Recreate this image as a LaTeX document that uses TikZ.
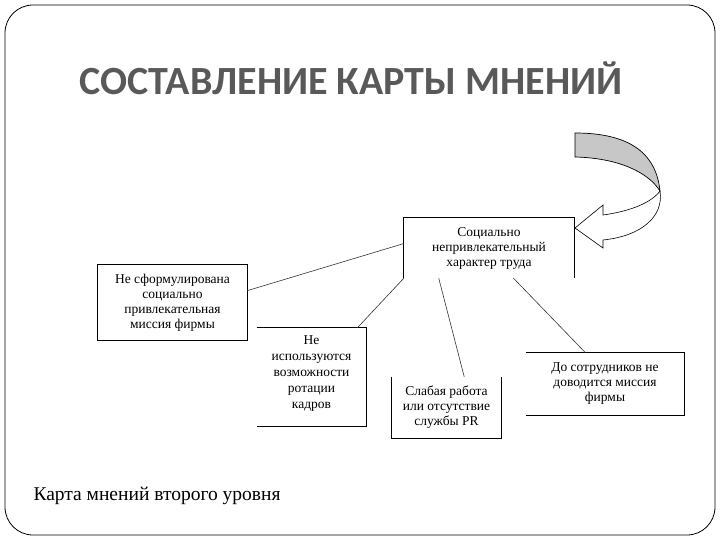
\documentclass[tikz,border=0pt]{standalone}
\usepackage{fontspec}
\setmainfont{Liberation Serif}
\newfontfamily\titlefont{Carlito}
\usetikzlibrary{positioning}

\begin{document}
\begin{tikzpicture}[x=1pt, y=-1pt,
    opinion/.style={inner sep=0pt, align=center, font=\fontsize{13.5}{15}\selectfont},
    side/.style={line width=1pt},
    link/.style={line width=0.6pt, black!80}]
    \useasboundingbox (0,0) rectangle (720,540);

    % Frame
    \draw[line width=0.8pt, rounded corners=28pt] (5,5) rectangle (715,535);

    % Title
    \node[anchor=base, text=black!65, font=\titlefont\bfseries\fontsize{40}{40}\selectfont] (title) at (351,95)
        {СОСТАВЛЕНИЕ КАРТЫ МНЕНИЙ};

    % Boxes
    \node[opinion, minimum width=170pt, minimum height=60pt] (work) at (489,248)
        {Социально\\непривлекательный\\характер труда};
    \node[opinion, minimum width=149pt, minimum height=75pt] (mission) at (172.5,302.5)
        {Не сформулирована\\социально\\привлекательная\\миссия фирмы};
    \node[opinion, minimum width=109pt, minimum height=98pt, font=\fontsize{13.5}{16}\selectfont,
          yshift=3pt] (rotation) at (311.5,377)
        {Не\\используются\\возможности\\ротации\\кадров};
    \node[opinion, minimum width=109pt, minimum height=61pt] (pr) at (446.5,407.5)
        {Слабая работа\\или отсутствие\\службы PR};
    \node[opinion, minimum width=158pt, minimum height=62pt] (staff) at (605,384)
        {До сотрудников не\\доводится миссия\\фирмы};

    % Box sides (as printed)
    \draw[side] (work.south west) -- (work.north west) -- (work.north east) -- (work.south east);
    \draw[side] (mission.south west) rectangle (mission.north east);
    \draw[side] ([yshift=-3pt]rotation.north west) -- ([yshift=-3pt]rotation.north east)
        -- ([yshift=-3pt]rotation.south east) -- ([yshift=-3pt]rotation.south west);
    \draw[side] (pr.north west) -- (pr.south west) -- (pr.south east) -- (pr.north east);
    \draw[side] (staff.north west) -- (staff.north east) -- (staff.south east) -- (staff.south west);

    % Links
    \draw[link] (mission.9) -- (work.177);
    \draw[link] (work.south west) -- ([yshift=-3pt]rotation.47);
    \draw[link] (work.211) -- (pr.60);
    \draw[link] (work.-51) -- (staff.122);

    % Curved arrow
    \fill[black!22, draw=black, line width=0.7pt] (575,133) .. controls (628,133) and (656,152) .. (660,191)
        .. controls (648,172) and (618,158) .. (575,157) -- cycle;
    \draw[fill=white, line width=0.6pt] (660,191) .. controls (664,216) and (642,236) .. (603,240)
        -- (603,248) -- (575,228) -- (603,205) -- (603,215)
        .. controls (632,211) and (652,202) .. (660,191);

    % Caption
    \node[anchor=base west, font=\fontsize{19.5}{19.5}\selectfont] (caption) at (30,500)
        {Карта мнений второго уровня};
\end{tikzpicture}
\end{document}
